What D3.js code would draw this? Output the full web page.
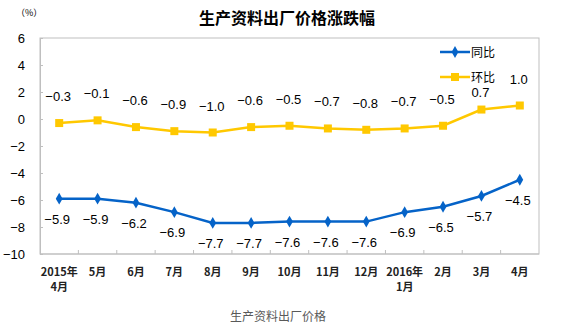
<!DOCTYPE html>
<html>
<head>
<meta charset="utf-8">
<script src="https://cdn.jsdelivr.net/npm/d3@7"></script>
<style>
  html, body { margin: 0; padding: 0; background: #fff; }
  svg { display: block; }
  text { font-family: "Liberation Sans", Arial, "Noto Sans CJK SC", sans-serif; }
  .cjk { font-family: "Noto Sans CJK SC", sans-serif; }
</style>
</head>
<body>
<svg id="chart" width="584" height="329"></svg>
<script>
// Month labels (two lines where the year changes)
const months = [
  ["2015年", "4月"], ["5月"], ["6月"], ["7月"], ["8月"], ["9月"], ["10月"],
  ["11月"], ["12月"], ["2016年", "1月"], ["2月"], ["3月"], ["4月"]
];
// Year-on-year change (%)
const yoy = [-5.9, -5.9, -6.2, -6.9, -7.7, -7.7, -7.6, -7.6, -7.6, -6.9, -6.5, -5.7, -4.5];
// Month-on-month change (%)
const mom = [-0.3, -0.1, -0.6, -0.9, -1.0, -0.6, -0.5, -0.7, -0.8, -0.7, -0.5, 0.7, 1.0];
const yTicks = [6, 4, 2, 0, -2, -4, -6, -8, -10];
const seriesNames = ["同比", "环比"];

const blue = "#0563C8", yellow = "#FFC800";
const svg = d3.select("#chart");
const m = { left: 40, right: 539, top: 38, bottom: 254 };

const x = d3.scaleBand().domain(d3.range(months.length)).range([m.left, m.right]);
const y = d3.scaleLinear().domain([-10, 6]).range([m.bottom, m.top]);
const cx = i => x(i) + x.bandwidth() / 2;

// Plot frame
svg.append("rect")
  .attr("x", m.left).attr("y", m.top)
  .attr("width", m.right - m.left).attr("height", m.bottom - m.top)
  .attr("fill", "none").attr("stroke", "#BFBFBF").attr("stroke-width", 1);

// Y axis
const yAxis = svg.append("g").attr("transform", `translate(${m.left},0)`)
  .call(d3.axisLeft(y).tickValues(yTicks).tickSize(-3).tickPadding(15).tickFormat(d3.format("d")));
yAxis.select(".domain").attr("stroke", "#BFBFBF");
yAxis.selectAll(".tick line").attr("stroke", "#BFBFBF");
yAxis.selectAll("text").attr("font-size", 13).attr("fill", "#000")
  .style("font-family", "'Liberation Sans', Arial, sans-serif");

// X axis: tick marks sit on band boundaries
const xg = svg.append("g").attr("transform", `translate(0,${m.bottom})`);
xg.append("line").attr("x1", m.left).attr("x2", m.right).attr("stroke", "#BFBFBF");
xg.selectAll("line.t").data(d3.range(1, months.length)).join("line")
  .attr("class", "t")
  .attr("x1", i => x(i)).attr("x2", i => x(i))
  .attr("y1", 0).attr("y2", -4).attr("stroke", "#BFBFBF");
const xl = xg.selectAll("text").data(months).join("text")
  .attr("class", "cjk")
  .attr("text-anchor", "middle")
  .attr("font-size", 11).attr("font-weight", "bold").attr("fill", "#222");
xl.each(function (d, i) {
  d3.select(this).selectAll("tspan").data(d).join("tspan")
    .attr("x", cx(i)).attr("y", (t, k) => 22 + k * 15).text(t => t);
});

// Lines
const line = d3.line().x((d, i) => cx(i)).y(d => y(d));
svg.append("path").datum(mom).attr("d", line)
  .attr("fill", "none").attr("stroke", yellow).attr("stroke-width", 2.5);
svg.append("path").datum(yoy).attr("d", line)
  .attr("fill", "none").attr("stroke", blue).attr("stroke-width", 2.5);

// Markers
svg.selectAll("rect.mom").data(mom).join("rect").attr("class", "mom")
  .attr("x", (d, i) => cx(i) - 4).attr("y", d => y(d) - 4)
  .attr("width", 8).attr("height", 8).attr("fill", yellow);
const diamond = d3.symbol().type(d3.symbolDiamond).size(40);
svg.selectAll("path.yoy").data(yoy).join("path").attr("class", "yoy")
  .attr("transform", (d, i) => `translate(${cx(i)},${y(d)})`)
  .attr("d", diamond).attr("fill", blue);

// Legend box placement
const legend = { x: 440, y: 52, gap: 25, width: 60 };

// Value labels; labels under the legend are pushed below it
const fmt = d3.format(".1f");
const legendBottom = legend.y + legend.gap + 6;
svg.selectAll("text.lmom").data(mom).join("text").attr("class", "lmom")
  .attr("x", (d, i) => cx(i) - 1)
  .attr("y", (d, i) => {
    const base = y(d) - 22;
    const under = cx(i) > legend.x - 10 && cx(i) < legend.x + legend.width;
    return under ? Math.max(base, legendBottom + 14) : base;
  })
  .attr("text-anchor", "middle").attr("font-size", 13).attr("fill", "#000")
  .text(d => fmt(d));
svg.selectAll("text.lyoy").data(yoy).join("text").attr("class", "lyoy")
  .attr("x", (d, i) => cx(i) - 2).attr("y", d => y(d) + 25)
  .attr("text-anchor", "middle").attr("font-size", 13).attr("fill", "#000")
  .text(d => fmt(d));

// Legend
const lg = svg.append("g").attr("transform", `translate(${legend.x},${legend.y})`);
[[blue, "diamond"], [yellow, "square"]].forEach(([c, s], k) => {
  const g = lg.append("g").attr("transform", `translate(0,${k * legend.gap})`);
  g.append("line").attr("x1", 0).attr("x2", 30).attr("stroke", c).attr("stroke-width", 2.5);
  if (s === "square") {
    g.append("rect").attr("x", 11).attr("y", -4).attr("width", 8).attr("height", 8).attr("fill", c);
  } else {
    g.append("path").attr("transform", "translate(15,0)").attr("d", diamond).attr("fill", c);
  }
  g.append("text").attr("class", "cjk").attr("x", 31).attr("y", 4.5)
    .attr("font-size", 12).attr("fill", "#000").text(seriesNames[k]);
});

// Titles
svg.append("text").attr("class", "cjk").attr("x", 287).attr("y", 24)
  .attr("text-anchor", "middle").attr("font-size", 16).attr("font-weight", "bold")
  .attr("fill", "#000").text("生产资料出厂价格涨跌幅");
svg.append("text").attr("class", "cjk").attr("x", 16).attr("y", 16)
  .attr("font-size", 9).attr("fill", "#000").text("（%）");
svg.append("text").attr("class", "cjk").attr("x", 278).attr("y", 321)
  .attr("text-anchor", "middle").attr("font-size", 12).attr("fill", "#595959")
  .text("生产资料出厂价格");
</script>
</body>
</html>
